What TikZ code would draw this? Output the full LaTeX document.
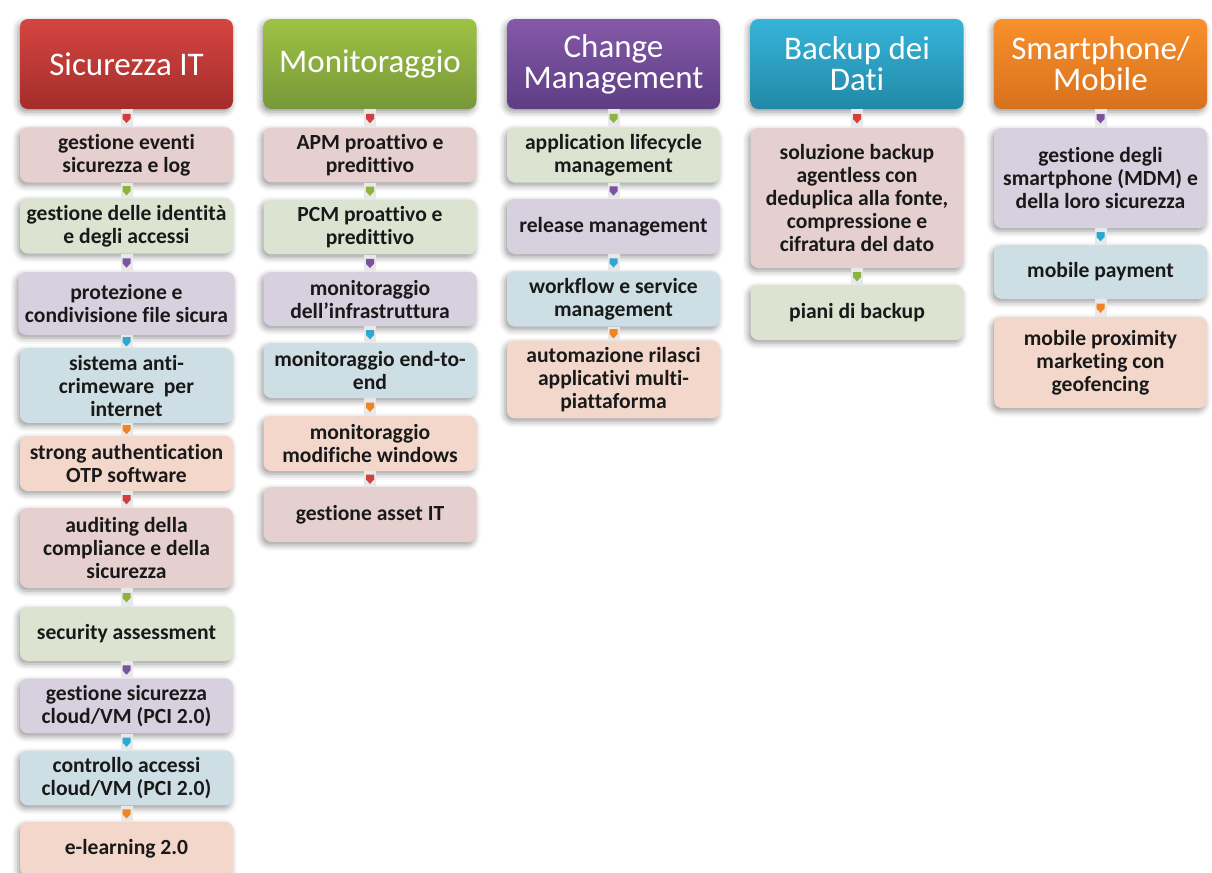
\documentclass[tikz,border=0pt]{standalone}
\usepackage{fontspec}
\setmainfont{Carlito}[Ligatures=NoCommon]
\usetikzlibrary{shadows.blur,positioning}

\definecolor{redT}{HTML}{D44541}
\definecolor{redB}{HTML}{A42D2B}
\definecolor{greenT}{HTML}{9EC244}
\definecolor{greenB}{HTML}{77983A}
\definecolor{purpleT}{HTML}{8459A9}
\definecolor{purpleB}{HTML}{5E3D84}
\definecolor{blueT}{HTML}{37B4D9}
\definecolor{blueB}{HTML}{2189A7}
\definecolor{orangeT}{HTML}{F8902B}
\definecolor{orangeB}{HTML}{D8711E}
% light fills
\definecolor{redL}{HTML}{E5CFCF}
\definecolor{greenL}{HTML}{DCE4D1}
\definecolor{purpleL}{HTML}{D6D0DF}
\definecolor{blueL}{HTML}{CDDEE4}
\definecolor{orangeL}{HTML}{F3D7CB}
% markers
\definecolor{redM}{HTML}{D1403C}
\definecolor{greenM}{HTML}{8DB33E}
\definecolor{purpleM}{HTML}{7A52A0}
\definecolor{blueM}{HTML}{2EA8CF}
\definecolor{orangeM}{HTML}{F08422}

\tikzset{
  head/.style 2 args={rounded corners=4pt, minimum width=106.5pt, minimum height=45pt,
    top color=#1, bottom color=#2, text=white, align=center,
    font=\fontsize{16.5}{15.5}\selectfont,
    blur shadow={shadow xshift=-1pt, shadow yshift=-1.5pt, shadow blur radius=3pt, shadow opacity=40}},
  item/.style={rounded corners=4pt, minimum width=106.5pt, fill=#1, align=center,
    text=black!90, font=\bfseries\fontsize{10.8}{11.5}\selectfont,
    blur shadow={shadow xshift=-1pt, shadow yshift=-1.5pt, shadow blur radius=3pt, shadow opacity=40}},
  link/.style={draw=black!9, line width=6pt},
  tipmark/.pic={\fill[#1] (-2pt,2.2pt) -- (2pt,2.2pt) -- (2pt,-0.3pt) -- (0,-2.4pt) -- (-2pt,-0.3pt) -- cycle;}
}

\begin{document}
\begin{tikzpicture}[x=0.5pt,y=-0.5pt]
\useasboundingbox (0,0) rectangle (1212,873);

% Sicurezza IT
\node[head={redT}{redB}] (sic) at (126.5,64) {Sicurezza IT};
\node[item=redL, minimum height=27pt] (sic1) at (126.5,155) {gestione eventi\\sicurezza e log};
\node[item=greenL, minimum height=27pt] (sic2) at (126.5,226) {gestione delle identità\\e degli accessi};
\node[item=purpleL, minimum height=31.5pt] (sic3) at (126.5,303.5) {protezione e\\condivisione file sicura};
\node[item=blueL, minimum height=33.5pt] (sic4) at (126.5,385.5) {sistema anti-\\crimeware\ \ per\\internet};
\node[item=orangeL, minimum height=27.5pt] (sic5) at (126.5,463.5) {strong authentication\\OTP software};
\node[item=redL, minimum height=40pt] (sic6) at (126.5,548) {auditing della\\compliance e della\\sicurezza};
\node[item=greenL, minimum height=27pt] (sic7) at (126.5,634) {security assessment};
\node[item=purpleL, minimum height=27pt] (sic8) at (126.5,706) {gestione sicurezza\\cloud/VM (PCI 2.0)};
\node[item=blueL, minimum height=27pt] (sic9) at (126.5,778) {controllo accessi\\cloud/VM (PCI 2.0)};
\node[item=orangeL, minimum height=27pt] (sic10) at (126.5,849) {e-learning 2.0};

\draw[link] (sic) -- (sic1) pic[pos=.5]{tipmark=redM};
\draw[link] (sic1) -- (sic2) pic[pos=.5]{tipmark=greenM};
\draw[link] (sic2) -- (sic3) pic[pos=.5]{tipmark=purpleM};
\draw[link] (sic3) -- (sic4) pic[pos=.5]{tipmark=blueM};
\draw[link] (sic4) -- (sic5) pic[pos=.5]{tipmark=orangeM};
\draw[link] (sic5) -- (sic6) pic[pos=.5]{tipmark=redM};
\draw[link] (sic6) -- (sic7) pic[pos=.5]{tipmark=greenM};
\draw[link] (sic7) -- (sic8) pic[pos=.5]{tipmark=purpleM};
\draw[link] (sic8) -- (sic9) pic[pos=.5]{tipmark=blueM};
\draw[link] (sic9) -- (sic10) pic[pos=.5]{tipmark=orangeM};

% Monitoraggio
\node[head={greenT}{greenB}] (mon) at (370,64) {Monitoraggio};
\node[item=redL, minimum height=27pt] (mon1) at (370,155) {APM proattivo e\\predittivo};
\node[item=greenL, minimum height=27pt] (mon2) at (370,227) {PCM proattivo e\\predittivo};
\node[item=purpleL, minimum height=27pt] (mon3) at (370,299) {monitoraggio\\dell’infrastruttura};
\node[item=blueL, minimum height=27.5pt] (mon4) at (370,370.5) {monitoraggio end-to-\\end};
\node[item=orangeL, minimum height=27.5pt] (mon5) at (370,443.5) {monitoraggio\\modifiche windows};
\node[item=redL, minimum height=27.5pt] (mon6) at (370,514.5) {gestione asset IT};

\draw[link] (mon) -- (mon1) pic[pos=.5]{tipmark=redM};
\draw[link] (mon1) -- (mon2) pic[pos=.5]{tipmark=greenM};
\draw[link] (mon2) -- (mon3) pic[pos=.5]{tipmark=purpleM};
\draw[link] (mon3) -- (mon4) pic[pos=.5]{tipmark=blueM};
\draw[link] (mon4) -- (mon5) pic[pos=.5]{tipmark=orangeM};
\draw[link] (mon5) -- (mon6) pic[pos=.5]{tipmark=redM};

% Change Management
\node[head={purpleT}{purpleB}] (chg) at (613.5,64) {Change\\Management};
\node[item=greenL, minimum height=27pt] (chg1) at (613.5,155) {application lifecycle\\management};
\node[item=purpleL, minimum height=27.5pt] (chg2) at (613.5,226.5) {release management};
\node[item=blueL, minimum height=27pt] (chg3) at (613.5,299) {workflow e service\\management};
\node[item=orangeL, minimum height=36.5pt] (chg4) at (613.5,379.5) {automazione rilasci\\applicativi multi-\\piattaforma};

\draw[link] (chg) -- (chg1) pic[pos=.5]{tipmark=greenM};
\draw[link] (chg1) -- (chg2) pic[pos=.5]{tipmark=purpleM};
\draw[link] (chg2) -- (chg3) pic[pos=.5]{tipmark=blueM};
\draw[link] (chg3) -- (chg4) pic[pos=.5]{tipmark=orangeM};

% Backup dei Dati
\node[head={blueT}{blueB}] (bck) at (857,64) {Backup dei\\Dati};
\node[item=redL, minimum height=70pt] (bck1) at (857,198) {soluzione backup\\agentless con\\deduplica alla fonte,\\compressione e\\cifratura del dato};
\node[item=greenL, minimum height=27.5pt] (bck2) at (857,312.5) {piani di backup};

\draw[link] (bck) -- (bck1) pic[pos=.5]{tipmark=redM};
\draw[link] (bck1) -- (bck2) pic[pos=.5]{tipmark=greenM};

% Smartphone/Mobile
\node[head={orangeT}{orangeB}] (mob) at (1100.5,64) {Smartphone/\\Mobile};
\node[item=purpleL, minimum height=50pt] (mob1) at (1100.5,178) {gestione degli\\smartphone (MDM) e\\della loro sicurezza};
\node[item=blueL, minimum height=27pt] (mob2) at (1100.5,272) {mobile payment};
\node[item=orangeL, minimum height=45.5pt] (mob3) at (1100.5,362.5) {mobile proximity\\marketing con\\geofencing};

\draw[link] (mob) -- (mob1) pic[pos=.5]{tipmark=purpleM};
\draw[link] (mob1) -- (mob2) pic[pos=.5]{tipmark=blueM};
\draw[link] (mob2) -- (mob3) pic[pos=.5]{tipmark=orangeM};
\end{tikzpicture}
\end{document}
